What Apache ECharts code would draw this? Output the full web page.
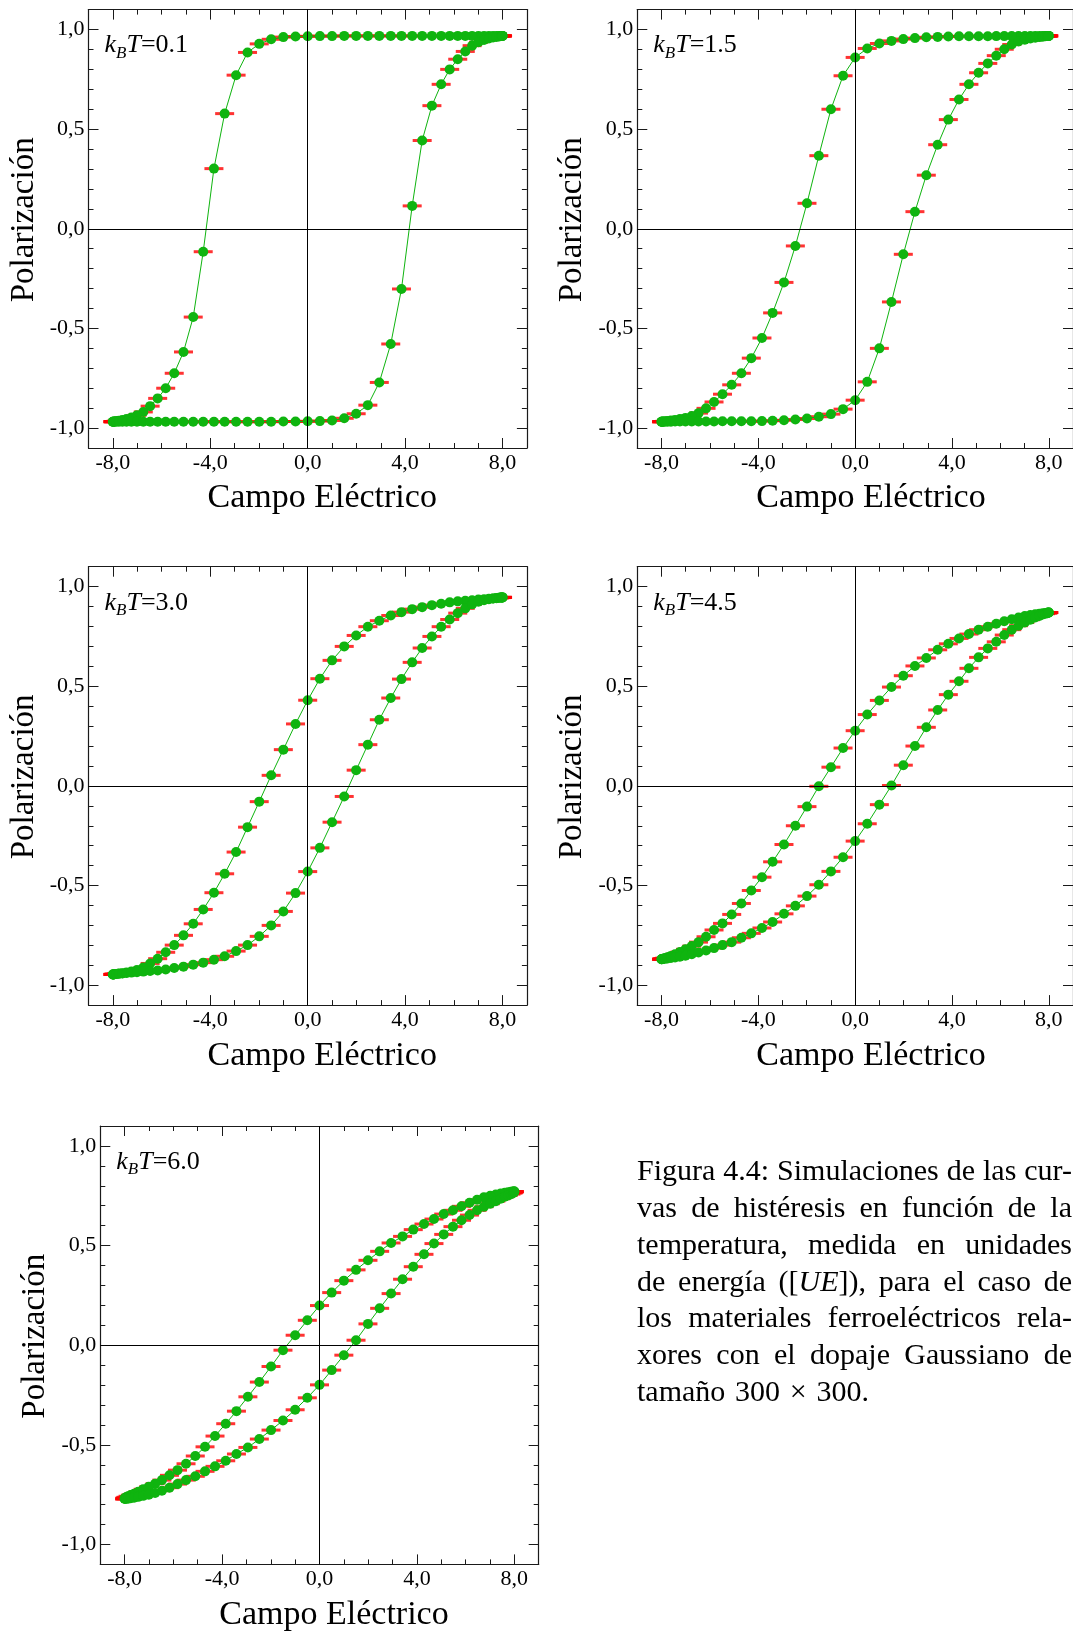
<!DOCTYPE html>
<html><head><meta charset="utf-8">
<script src="https://cdn.jsdelivr.net/npm/echarts@6/dist/echarts.min.js"></script>
<style>html,body{margin:0;padding:0;background:#fff}#c{width:1073px;height:1632px}</style>
</head><body><div id="c"></div>
<script>
// ---------------- data ----------------
// electric field: descending sweep (+8 -> -8) and ascending sweep (-8 -> +8)
const fieldDown = [8.00,7.98,7.94,7.86,7.75,7.61,7.44,7.24,7.01,6.75,6.47,6.16,5.83,5.48,5.10,4.70,4.29,3.85,3.41,2.94,2.47,1.99,1.50,1.00,0.50,0.00,-0.50,-1.00,-1.50,-1.99,-2.47,-2.94,-3.41,-3.85,-4.29,-4.70,-5.10,-5.48,-5.83,-6.16,-6.47,-6.75,-7.01,-7.24,-7.44,-7.61,-7.75,-7.86,-7.94,-7.98,-8.00];
const fieldUp = [-8.00,-7.98,-7.94,-7.86,-7.75,-7.61,-7.44,-7.24,-7.01,-6.75,-6.47,-6.16,-5.83,-5.48,-5.10,-4.70,-4.29,-3.85,-3.41,-2.94,-2.47,-1.99,-1.50,-1.00,-0.50,0.00,0.50,1.00,1.50,1.99,2.47,2.94,3.41,3.85,4.29,4.70,5.10,5.48,5.83,6.16,6.47,6.75,7.01,7.24,7.44,7.61,7.75,7.86,7.94,7.98,8.00];

// kBT = 0.1
const polDown_01 = [0.968,0.968,0.968,0.968,0.968,0.968,0.968,0.968,0.968,0.968,0.968,0.968,0.968,0.968,0.968,0.968,0.968,0.968,0.968,0.968,0.968,0.968,0.968,0.967,0.967,0.966,0.965,0.962,0.951,0.928,0.885,0.771,0.578,0.302,-0.115,-0.443,-0.618,-0.725,-0.800,-0.851,-0.890,-0.919,-0.936,-0.947,-0.955,-0.960,-0.963,-0.965,-0.967,-0.968,-0.968];
const polUp_01 = [-0.968,-0.968,-0.968,-0.968,-0.968,-0.968,-0.968,-0.968,-0.968,-0.968,-0.968,-0.968,-0.968,-0.968,-0.968,-0.968,-0.968,-0.968,-0.968,-0.968,-0.968,-0.968,-0.968,-0.967,-0.967,-0.966,-0.965,-0.962,-0.951,-0.928,-0.885,-0.771,-0.578,-0.302,0.115,0.443,0.618,0.725,0.800,0.851,0.890,0.919,0.936,0.947,0.955,0.960,0.963,0.965,0.967,0.968,0.968];
// kBT = 1.5
const polDown_15 = [0.968,0.968,0.968,0.968,0.968,0.968,0.967,0.967,0.967,0.967,0.967,0.967,0.967,0.966,0.966,0.966,0.966,0.965,0.963,0.961,0.957,0.952,0.943,0.930,0.905,0.860,0.768,0.600,0.367,0.128,-0.086,-0.269,-0.422,-0.548,-0.649,-0.725,-0.783,-0.830,-0.869,-0.901,-0.925,-0.940,-0.949,-0.955,-0.959,-0.962,-0.964,-0.966,-0.967,-0.968,-0.968];
const polUp_15 = [-0.968,-0.968,-0.968,-0.968,-0.968,-0.968,-0.967,-0.967,-0.967,-0.967,-0.967,-0.967,-0.967,-0.966,-0.966,-0.966,-0.966,-0.965,-0.963,-0.961,-0.957,-0.952,-0.943,-0.930,-0.905,-0.860,-0.768,-0.600,-0.367,-0.128,0.086,0.269,0.422,0.548,0.649,0.725,0.783,0.830,0.869,0.901,0.925,0.940,0.949,0.955,0.959,0.962,0.964,0.966,0.967,0.968,0.968];
// kBT = 3.0
const polDown_30 = [0.946,0.946,0.945,0.944,0.943,0.941,0.939,0.937,0.935,0.932,0.929,0.926,0.921,0.914,0.907,0.897,0.887,0.872,0.855,0.829,0.799,0.755,0.700,0.630,0.538,0.430,0.311,0.182,0.053,-0.079,-0.207,-0.332,-0.441,-0.536,-0.620,-0.692,-0.750,-0.799,-0.835,-0.867,-0.891,-0.911,-0.924,-0.932,-0.937,-0.940,-0.942,-0.944,-0.945,-0.946,-0.946];
const polUp_30 = [-0.946,-0.946,-0.945,-0.944,-0.943,-0.941,-0.939,-0.937,-0.935,-0.932,-0.929,-0.926,-0.921,-0.914,-0.907,-0.897,-0.887,-0.872,-0.855,-0.829,-0.799,-0.755,-0.700,-0.630,-0.538,-0.430,-0.311,-0.182,-0.053,0.079,0.207,0.332,0.441,0.536,0.620,0.692,0.750,0.799,0.835,0.867,0.891,0.911,0.924,0.932,0.937,0.940,0.942,0.944,0.945,0.946,0.946];
// kBT = 4.5
const polDown_45 = [0.870,0.870,0.869,0.868,0.866,0.864,0.861,0.857,0.852,0.845,0.836,0.826,0.814,0.799,0.784,0.762,0.740,0.713,0.683,0.642,0.602,0.553,0.496,0.429,0.358,0.277,0.190,0.094,-0.002,-0.104,-0.200,-0.294,-0.381,-0.458,-0.525,-0.590,-0.645,-0.690,-0.723,-0.757,-0.784,-0.804,-0.820,-0.834,-0.845,-0.853,-0.860,-0.864,-0.867,-0.869,-0.870];
const polUp_45 = [-0.870,-0.870,-0.869,-0.868,-0.866,-0.864,-0.861,-0.857,-0.852,-0.845,-0.836,-0.826,-0.814,-0.799,-0.784,-0.762,-0.740,-0.713,-0.683,-0.642,-0.602,-0.553,-0.496,-0.429,-0.358,-0.277,-0.190,-0.094,0.002,0.104,0.200,0.294,0.381,0.458,0.525,0.590,0.645,0.690,0.723,0.757,0.784,0.804,0.820,0.834,0.845,0.853,0.860,0.864,0.867,0.869,0.870];
// kBT = 6.0
const polDown_60 = [0.771,0.771,0.771,0.770,0.768,0.765,0.761,0.756,0.750,0.742,0.730,0.715,0.697,0.677,0.658,0.633,0.608,0.580,0.546,0.513,0.471,0.426,0.378,0.324,0.264,0.199,0.125,0.050,-0.025,-0.107,-0.185,-0.259,-0.331,-0.394,-0.456,-0.510,-0.556,-0.595,-0.627,-0.653,-0.677,-0.695,-0.710,-0.723,-0.735,-0.745,-0.752,-0.758,-0.763,-0.766,-0.771];
const polUp_60 = [-0.771,-0.771,-0.771,-0.770,-0.768,-0.765,-0.761,-0.756,-0.750,-0.742,-0.730,-0.715,-0.697,-0.677,-0.658,-0.633,-0.608,-0.580,-0.546,-0.513,-0.471,-0.426,-0.378,-0.324,-0.264,-0.199,-0.125,-0.050,0.025,0.107,0.185,0.259,0.331,0.394,0.456,0.510,0.556,0.595,0.627,0.653,0.677,0.695,0.710,0.723,0.735,0.745,0.752,0.758,0.763,0.766,0.771];

const temperatures = ['0.1','1.5','3.0','4.5','6.0'];
const xTickValues = [-8,-4,0,4,8];
const yTickValues = [-1,-0.5,0,0.5,1];
const xAxisTitle = 'Campo Eléctrico';
const yAxisTitle = 'Polarización';
const captionLines = [
  'Figura 4.4: Simulaciones de las cur-',
  'vas de histéresis en función de la',
  'temperatura, medida en unidades',
  'de energía ([{it|UE}]), para el caso de',
  'los materiales ferroeléctricos rela-',
  'xores con el dopaje Gaussiano de',
  'tamaño 300 × 300.'
];

// ---------------- layout / style ----------------
const downSets = [polDown_01, polDown_15, polDown_30, polDown_45, polDown_60];
const upSets = [polUp_01, polUp_15, polUp_30, polUp_45, polUp_60];
const layout = [[88.5,9.6],[637.3,9.6],[88.5,566.7],[637.3,566.7],[100.3,1126]];
const W = 438.4, H = 438.4;
const FONT = 'Liberation Serif';
const GREEN = '#0fb40f';
const RED = '#ff0000';
const AX = '#1a1a1a';

function fmt(v){ return (v < 0 ? '-' : '') + Math.abs(v).toFixed(1).replace('.', ','); }
function zip(xs, ys){ return xs.map((x,i)=>[x, ys[i]]); }

const grid = [], xAxis = [], yAxis = [], series = [], graphic = [];

layout.forEach(([L,T], p) => {
  const gA = grid.length;
  grid.push({left:L, top:T, width:W, height:H});
  grid.push({left:L, top:T, width:W, height:H});
  const gB = gA + 1;
  const labelStyle = {fontFamily:FONT, fontSize:22, color:'#000'};
  ['bottom','top'].forEach(pos => {
    xAxis.push({gridIndex:gA, type:'value', position:pos, min:-9, max:9, interval:1,
      axisLine:{show:true, onZero:false, lineStyle:{color:AX, width:1.2}},
      axisTick:{show:true, inside:true, length:10, customValues:xTickValues, lineStyle:{color:AX, width:1}},
      axisLabel:Object.assign({show:pos==='bottom', customValues:xTickValues, formatter:fmt, margin:4}, labelStyle),
      splitLine:{show:false}});
  });
  ['bottom','top'].forEach(pos => {
    xAxis.push({gridIndex:gB, type:'value', position:pos, min:-9, max:9, interval:1,
      axisLine:{show:false, onZero:false},
      axisTick:{show:true, inside:true, length:5, lineStyle:{color:AX, width:1}},
      axisLabel:{show:false}, splitLine:{show:false}});
  });
  ['left','right'].forEach(pos => {
    yAxis.push({gridIndex:gA, type:'value', position:pos, min:-1.1, max:1.1, interval:0.1,
      axisLine:{show:true, onZero:false, lineStyle:{color:AX, width:1.2}},
      axisTick:{show:true, inside:true, length:10, customValues:yTickValues, lineStyle:{color:AX, width:1}},
      axisLabel:Object.assign({show:pos==='left', customValues:yTickValues, formatter:fmt, margin:4}, labelStyle),
      splitLine:{show:false}});
  });
  ['left','right'].forEach(pos => {
    yAxis.push({gridIndex:gB, type:'value', position:pos, min:-1.1, max:1.1, interval:0.1,
      axisLine:{show:false, onZero:false},
      axisTick:{show:true, inside:true, length:5, lineStyle:{color:AX, width:1}},
      axisLabel:{show:false}, splitLine:{show:false}});
  });
  const xi = p*4, yi = p*4;
  const down = zip(fieldDown, downSets[p]);
  const up = zip(fieldUp, upSets[p]);
  series.push({type:'scatter', xAxisIndex:xi, yAxisIndex:yi, z:2, symbol:'rect', symbolSize:[19,3],
    itemStyle:{color:RED}, data:down.concat(up), silent:true,
    markLine:{silent:true, symbol:['none','none'], label:{show:false},
      lineStyle:{color:'#000', width:1, type:'solid'}, data:[{xAxis:0},{yAxis:0}]}});
  [down, up].forEach(d => {
    series.push({type:'line', xAxisIndex:xi, yAxisIndex:yi, z:3, data:d, symbol:'circle', symbolSize:10,
      showSymbol:true, showAllSymbol:true, itemStyle:{color:GREEN}, lineStyle:{color:GREEN, width:1}, silent:true});
  });
  // axis titles
  graphic.push({type:'text', x:L - 64.5, y:T + H/2 - 9, rotation:Math.PI/2, silent:true,
    style:{text:yAxisTitle, fontFamily:FONT, fontSize:33, fill:'#000', align:'center', verticalAlign:'middle'}});
  graphic.push({type:'text', x:L + W/2 + 14.5, y:T + H + 50.5, silent:true,
    style:{text:xAxisTitle, fontFamily:FONT, fontSize:34, fill:'#000', align:'center', verticalAlign:'middle'}});
  // temperature label
  graphic.push({type:'text', x:L + 16, y:T + 36, silent:true,
    style:{text:'{i|k}{s|B}{i|T}{n|=' + temperatures[p] + '}', align:'left', verticalAlign:'middle', fill:'#000',
      rich:{
        i:{fontFamily:FONT, fontStyle:'italic', fontSize:26, lineHeight:32, verticalAlign:'middle'},
        s:{fontFamily:FONT, fontStyle:'italic', fontSize:17, lineHeight:17, verticalAlign:'bottom'},
        n:{fontFamily:FONT, fontSize:26, lineHeight:32, verticalAlign:'middle'}
      }}});
});

// caption (justified)
const CFS = 30;
const ctx = document.createElement('canvas').getContext('2d');
function segs(word){
  const out = []; const re = /\{it\|([^}]*)\}/g; let last = 0, m;
  while ((m = re.exec(word))) { if (m.index > last) out.push({t:word.slice(last, m.index), it:false}); out.push({t:m[1], it:true}); last = re.lastIndex; }
  if (last < word.length) out.push({t:word.slice(last), it:false});
  return out;
}
function measure(word){
  return segs(word).reduce((s, g) => { ctx.font = (g.it ? 'italic ' : '') + CFS + 'px "' + FONT + '"'; return s + ctx.measureText(g.t).width; }, 0);
}
const cx0 = 637, cx1 = 1072, cBase = 1182.7, cStep = 36.7;
captionLines.forEach((line, li) => {
  const words = line.split(' ');
  const ws = words.map(measure);
  const total = ws.reduce((a,b)=>a+b, 0);
  const justify = li < captionLines.length - 1;
  ctx.font = CFS + 'px "' + FONT + '"';
  const gap = justify ? (cx1 - cx0 - total) / (words.length - 1) : ctx.measureText(' ').width * 1.3;
  let x = cx0;
  const y = cBase + li * cStep - 0.3375 * CFS;
  words.forEach((w, wi) => {
    graphic.push({type:'text', x:x, y:y, silent:true,
      style:{text:w, fontFamily:FONT, fontSize:CFS, fill:'#000', align:'left', verticalAlign:'middle',
        rich:{it:{fontFamily:FONT, fontStyle:'italic', fontSize:CFS}}}});
    x += ws[wi] + gap;
  });
});

const chart = echarts.init(document.getElementById('c'), null, {renderer:'canvas', width:1073, height:1632});
chart.setOption({animation:false, backgroundColor:'#fff', grid, xAxis, yAxis, series, graphic:{elements:graphic}});
</script></body></html>
